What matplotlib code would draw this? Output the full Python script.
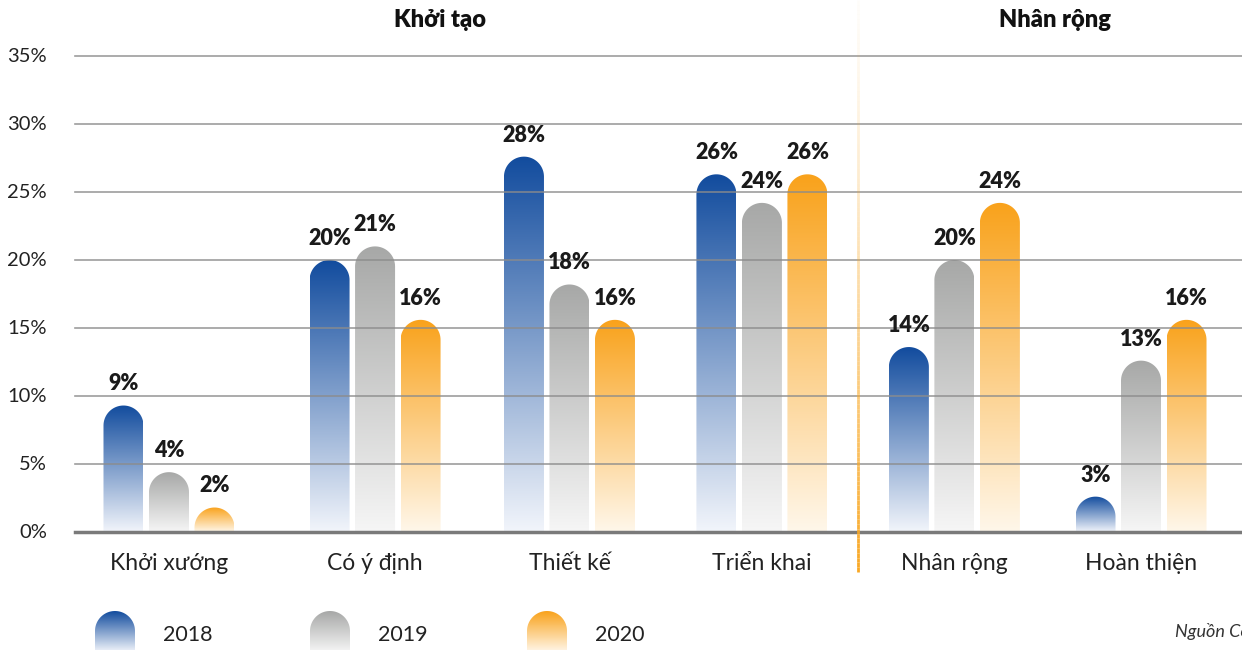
import numpy as np
import matplotlib
matplotlib.use("Agg")
import matplotlib.pyplot as plt
from matplotlib.path import Path
from matplotlib.patches import PathPatch
from matplotlib.colors import to_rgb
from matplotlib.collections import LineCollection

# ---------------- data ----------------
categories = ["Khởi xướng", "Có ý định", "Thiết kế", "Triển khai", "Nhân rộng", "Hoàn thiện"]
years = ["2018", "2019", "2020"]
v2018 = [9.3, 20.0, 27.6, 26.3, 13.6, 2.6]
v2019 = [4.4, 21.0, 18.2, 24.2, 20.0, 12.6]
v2020 = [1.8, 15.6, 15.6, 26.3, 24.2, 15.6]
yticks = [0, 5, 10, 15, 20, 25, 30, 35]
group_titles = ["Khởi tạo", "Nhân rộng"]
source_text = "Nguồn Công ty"

series = [v2018, v2019, v2020]
top_colors = ["#124C9E", "#A7A8A7", "#F9A21B"]
bottom_colors = ["#F2F5FB", "#F6F6F6", "#FFF7EA"]

# layout: group centre positions (slightly uneven spacing, as in the original)
group_pos = np.array([0, 1.06, 2.06, 3.05, 4.04, 5.0])

FONT = ["Lato", "DejaVu Sans"]
plt.rcParams["font.family"] = FONT

W, H = 1242, 650
fig = plt.figure(figsize=(W / 100, H / 100), dpi=100)

# main axes: pixel box x 75..1242, y 56..532
ax = fig.add_axes([75 / W, (H - 532) / H, (W - 75) / W, (532 - 56) / H])
x_left, x_right = -0.4835, 5.5195
ax.set_xlim(x_left, x_right)
ax.set_ylim(0, 35)
for s in ax.spines.values():
    s.set_visible(False)
ax.set_xticks([])
ax.set_yticks([])

px_per_x = (W - 75) / (x_right - x_left)
px_per_y = (532 - 56) / 35.0

bar_w = 40 / px_per_x
offset = 45.5 / px_per_x
rx = bar_w / 2
ry = 20 / px_per_y


def rounded_bar_path(xc, v, rx, ry, n=40):
    verts = [(xc - rx, 0), (xc - rx, v - ry)]
    for a in np.linspace(np.pi, 0, n):
        verts.append((xc + rx * np.cos(a), v - ry + ry * np.sin(a)))
    verts.append((xc + rx, 0))
    verts.append((xc - rx, 0))
    codes = [Path.MOVETO] + [Path.LINETO] * (len(verts) - 2) + [Path.CLOSEPOLY]
    return Path(verts, codes)


def gradient_img(c_top, c_bot, n=256):
    t = np.linspace(0, 1, n)[:, None]  # row 0 = bottom colour
    ct = np.array(to_rgb(c_top))
    cb = np.array(to_rgb(c_bot))
    rgb = cb + (ct - cb) * t
    return rgb[:, None, :]


for si, vals in enumerate(series):
    for i, v in enumerate(vals):
        xc = group_pos[i] + (si - 1) * offset
        patch = PathPatch(rounded_bar_path(xc, v, rx, ry), facecolor="none",
                          edgecolor="none", zorder=2)
        ax.add_patch(patch)
        im = ax.imshow(gradient_img(top_colors[si], bottom_colors[si]),
                       extent=[xc - rx, xc + rx, 0, v], origin="lower",
                       aspect="auto", zorder=2, interpolation="bilinear")
        im.set_clip_path(patch)
        ax.annotate(f"{int(v + 0.5)}%", (xc, v), xytext=(0, 8),
                    textcoords="offset points", ha="center", va="bottom",
                    fontsize=15.5, fontweight="heavy", color="#1A1A1A", zorder=5)

ax.set_xlim(x_left, x_right)
ax.set_ylim(0, 35)

# gridlines drawn over bars
for yv in yticks[1:]:
    ax.axhline(yv, color="#8C8C8C", lw=1.2, alpha=0.85, zorder=3, clip_on=False)
ax.axhline(0, color="#7A7A7A", lw=2.5, zorder=4, clip_on=False)

# y tick labels
for yv in yticks:
    ax.text(x_left - 28 / px_per_x, yv, f"{yv}%", ha="right", va="center",
            fontsize=14.5, color="#222222")

# category labels
for i, c in enumerate(categories):
    ax.text(group_pos[i], -31 / px_per_y, c, ha="center", va="center",
            fontsize=16.5, color="#222222")

# overlay axes in pixel coordinates for decoration
ov = fig.add_axes([0, 0, 1, 1])
ov.set_xlim(0, W)
ov.set_ylim(H, 0)
ov.axis("off")
ov.patch.set_alpha(0)

ov.text(440, 20, group_titles[0], ha="center", va="center", fontsize=17,
        fontweight="heavy", color="#111111")
ov.text(1055, 20, group_titles[1], ha="center", va="center", fontsize=17,
        fontweight="heavy", color="#111111")

# vertical orange divider with alpha gradient
ys = np.linspace(0, 572, 120)
segs = [[(858, ys[k]), (858, ys[k + 1])] for k in range(len(ys) - 1)]
alphas = np.linspace(0.08, 1.0, len(segs)) ** 1.5
oc = np.array(to_rgb("#F9A825"))
cols = [(oc[0], oc[1], oc[2], a) for a in alphas]
ov.add_collection(LineCollection(segs, colors=cols, linewidths=2))

# legend
leg_x = [115, 330, 547]
for si, (lx, yr) in enumerate(zip(leg_x, years)):
    top, bot, r = 611, 652, 20
    verts = [(lx - r, bot), (lx - r, top + r)]
    for a in np.linspace(np.pi, 0, 40):
        verts.append((lx + r * np.cos(a), top + r - r * np.sin(a)))
    verts += [(lx + r, bot), (lx - r, bot)]
    codes = [Path.MOVETO] + [Path.LINETO] * (len(verts) - 2) + [Path.CLOSEPOLY]
    p = PathPatch(Path(verts, codes), facecolor="none", edgecolor="none")
    ov.add_patch(p)
    im = ov.imshow(gradient_img(top_colors[si], bottom_colors[si]),
                   extent=[lx - r, lx + r, bot, top], origin="lower",
                   aspect="auto", interpolation="bilinear")
    im.set_clip_path(p)
    ov.text(lx + 48, 635, yr, ha="left", va="center", fontsize=15.5, color="#222222")

ov.set_xlim(0, W)
ov.set_ylim(H, 0)

ov.text(1175, 632, source_text, ha="left", va="center", fontsize=13,
        style="italic", color="#333333")

fig.savefig("out.png", dpi=100)
